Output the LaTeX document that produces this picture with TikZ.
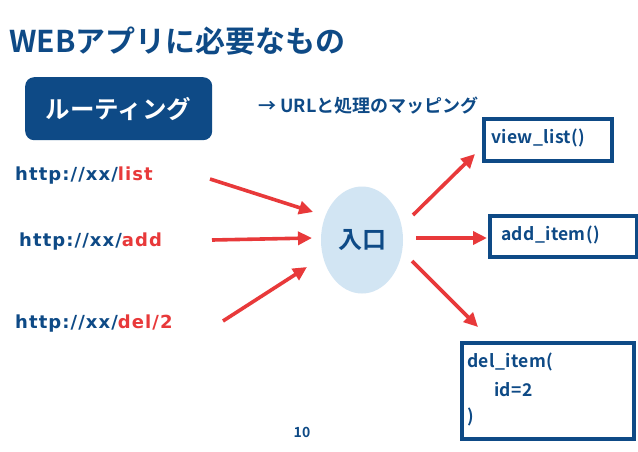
\documentclass[tikz,border=0pt]{standalone}
\usepackage{fontspec}
\setmainfont{Noto Sans CJK JP}[BoldFont={* Bold}]
\newfontfamily\urlfont{DejaVu Sans}[BoldFont={* Bold}]
\usetikzlibrary{arrows.meta,shapes.geometric}
\definecolor{dblue}{HTML}{0E4A86}
\definecolor{ared}{HTML}{E8393A}
\definecolor{lblue}{HTML}{D2E5F3}
\tikzset{
  redarrow/.style={draw=ared,line width=3.6pt,-{Triangle[length=14pt,width=13pt]}},
  funcbox/.style={draw=dblue,line width=3.5pt,rectangle,anchor=north west,inner sep=0pt},
  urltext/.style={font=\urlfont\bfseries\fontsize{18}{20}\selectfont\addfontfeatures{LetterSpace=6},text=dblue,anchor=west,inner sep=0pt},
  functext/.style={font=\bfseries\fontsize{17.5}{20}\selectfont\addfontfeatures{LetterSpace=2},text=dblue,anchor=west,inner sep=0pt},
}
\begin{document}
\begin{tikzpicture}[x=1pt,y=-1pt]
\useasboundingbox (0,0) rectangle (638,451);
\fill[white] (0,0) rectangle (638,451);
% title
\node[anchor=west,inner sep=0pt,font=\bfseries\fontsize{30}{32}\selectfont,text=dblue] (title) at (9,41) {WEBアプリに必要なもの};
% routing box
\node[fill=dblue,rounded corners=9pt,minimum width=187pt,minimum height=63pt,anchor=north west,inner sep=0pt,text=white,font=\bfseries\fontsize{24.5}{26}\selectfont] (routing) at (25,77) {ルーティング};
\node[anchor=west,inner sep=0pt,font=\bfseries\fontsize{18}{20}\selectfont,text=dblue] (mapping) at (258,106) {→ URLと処理のマッピング};
% urls
\node[urltext] (u1) at (15,176) {http://xx/\textcolor{ared}{list}};
\node[urltext] (u2) at (19,242) {http://xx/\textcolor{ared}{add}};
\node[urltext] (u3) at (15,324) {http://xx/\textcolor{ared}{del/2}};
% entry
\node[ellipse,fill=lblue,minimum width=82pt,minimum height=107pt,inner sep=0pt,text=dblue,font=\bfseries\fontsize{24}{26}\selectfont] (entry) at (362,240) {入口};
% function boxes
\node[funcbox,minimum width=128pt,minimum height=42pt] (f1) at (482,117) {};
\node[functext] (t1) at (491,138) {view\_list()};
\node[funcbox,minimum width=147pt,minimum height=41pt] (f2) at (488,214) {};
\node[functext] (t2) at (501,235) {add\_item()};
\node[funcbox,minimum width=172pt,minimum height=96pt] (f3) at (460,341) {};
\node[functext] (t3a) at (467,362) {del\_item(};
\node[functext] (t3b) at (494,390) {id=2};
\node[functext] (t3c) at (467,417) {)};
% page number
\node[inner sep=0pt,font=\bfseries\fontsize{14}{16}\selectfont,text=dblue] (pg) at (302,432) {10};
% arrows
\coordinate (a1s) at (210,179); \coordinate (a1e) at (313,212);
\coordinate (a2s) at (212,240); \coordinate (a2e) at (312,238);
\coordinate (a3s) at (223,321); \coordinate (a3e) at (307,267);
\coordinate (b1s) at (413,215); \coordinate (b1e) at (475,154);
\coordinate (b2s) at (416,238); \coordinate (b2e) at (487,238);
\coordinate (b3s) at (412,261); \coordinate (b3e) at (478,327);
\draw[redarrow] (a1s) -- (a1e);
\draw[redarrow] (a2s) -- (a2e);
\draw[redarrow] (a3s) -- (a3e);
\draw[redarrow] (b1s) -- (b1e);
\draw[redarrow] (b2s) -- (b2e);
\draw[redarrow] (b3s) -- (b3e);
\end{tikzpicture}
\end{document}
